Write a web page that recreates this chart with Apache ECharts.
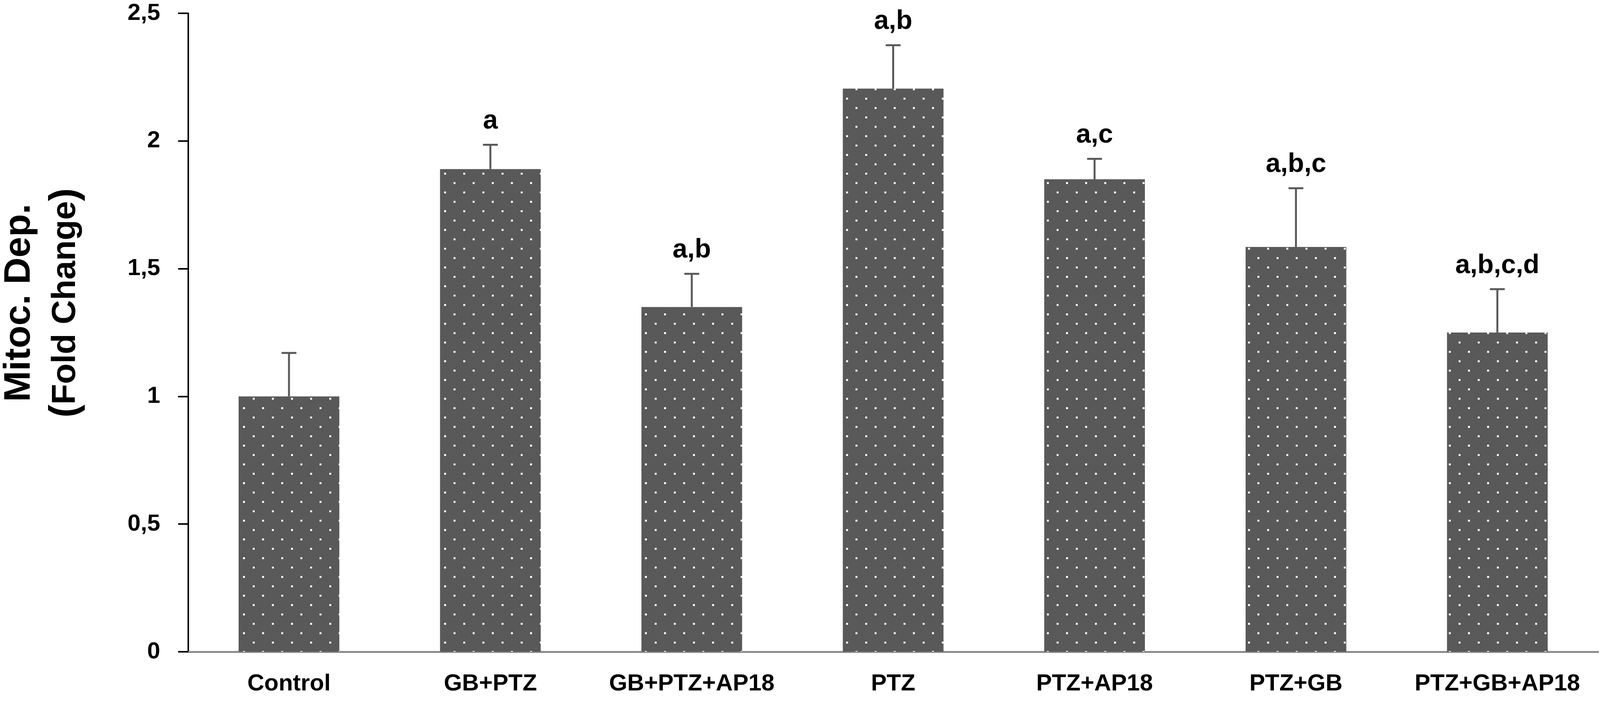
<!DOCTYPE html>
<html>
<head>
<meta charset="utf-8">
<script src="https://cdn.jsdelivr.net/npm/echarts@6/dist/echarts.min.js"></script>
<style>
html,body{margin:0;padding:0;background:#fff;}
#chart{width:4106px;height:1794px;}
</style>
</head>
<body>
<div id="chart"></div>
<script>
// ---- data ----
var categories = ['Control', 'GB+PTZ', 'GB+PTZ+AP18', 'PTZ', 'PTZ+AP18', 'PTZ+GB', 'PTZ+GB+AP18'];
var meanValues = [1.0, 1.89, 1.35, 2.205, 1.85, 1.585, 1.25];
var errorValues = [0.17, 0.095, 0.13, 0.17, 0.08, 0.23, 0.17];
var sigLetters = ['', 'a', 'a,b', 'a,b', 'a,c', 'a,b,c', 'a,b,c,d'];
var yTicks = [0, 0.5, 1, 1.5, 2, 2.5];

// ---- dotted pattern ----
function makePattern() {
  var c = document.createElement('canvas');
  c.width = 49; c.height = 48;
  var ctx = c.getContext('2d');
  ctx.fillStyle = '#595959';
  ctx.fillRect(0, 0, 49, 48);
  ctx.fillStyle = '#ffffff';
  ctx.fillRect(10, 10, 5, 5);
  ctx.fillRect(34, 34, 5, 5);
  return c;
}

var chart = echarts.init(document.getElementById('chart'));
var errData = meanValues.map(function (v, i) { return [i, v, errorValues[i]]; });

var option = {
  backgroundColor: '#ffffff',
  animation: false,
  grid: { left: 482, right: 15, top: 34, bottom: 126, containLabel: false },
  xAxis: {
    type: 'category',
    data: categories,
    axisLine: { show: true, lineStyle: { color: '#8c8c8c', width: 5 } },
    axisTick: { show: false },
    axisLabel: {
      interval: 0,
      margin: 52,
      fontFamily: 'Liberation Sans, sans-serif',
      fontWeight: 'bold',
      fontSize: 60,
      color: '#000'
    },
    splitLine: { show: false }
  },
  yAxis: {
    type: 'value',
    min: yTicks[0],
    max: yTicks[yTicks.length - 1],
    interval: 0.5,
    axisLine: { show: true, lineStyle: { color: '#000', width: 4 } },
    axisTick: { show: true, inside: false, length: 26, lineStyle: { color: '#000', width: 4 } },
    axisLabel: {
      margin: 72,
      fontFamily: 'Liberation Sans, sans-serif',
      fontWeight: 'bold',
      fontSize: 60,
      color: '#000',
      formatter: function (v) { return String(v).replace('.', ','); }
    },
    splitLine: { show: false }
  },
  series: [
    {
      type: 'bar',
      data: meanValues,
      barWidth: '50%',
      itemStyle: { color: { image: makePattern(), repeat: 'repeat' } },
      z: 2
    },
    {
      type: 'custom',
      data: errData,
      z: 3,
      renderItem: function (params, api) {
        var i = api.value(0);
        var v = api.value(1);
        var e = api.value(2);
        var base = api.coord([i, v]);
        var top = api.coord([i, v + e]);
        var half = 19;
        var letter = sigLetters[params.dataIndex];
        var children = [
          { type: 'line', shape: { x1: base[0], y1: base[1], x2: top[0], y2: top[1] },
            style: { stroke: '#595959', lineWidth: 5 } },
          { type: 'line', shape: { x1: top[0] - half, y1: top[1], x2: top[0] + half, y2: top[1] },
            style: { stroke: '#595959', lineWidth: 5 } }
        ];
        if (letter) {
          children.push({
            type: 'text',
            style: {
              text: letter,
              x: top[0], y: top[1] - 26,
              align: 'center', verticalAlign: 'bottom',
              fill: '#000',
              font: 'bold 68px "Liberation Sans", sans-serif'
            }
          });
        }
        return { type: 'group', children: children };
      }
    }
  ],
  graphic: [
    {
      type: 'text',
      x: 50, y: 775,
      rotation: Math.PI / 2,
      style: {
        text: 'Mitoc. Dep.',
        align: 'center', verticalAlign: 'middle',
        fill: '#000',
        font: 'bold 95px "Liberation Sans", sans-serif'
      }
    },
    {
      type: 'text',
      x: 168, y: 775,
      rotation: Math.PI / 2,
      style: {
        text: '{p|(}{f|Fold Change}{p|)}',
        align: 'center', verticalAlign: 'middle',
        fill: '#000',
        rich: {
          p: { fontSize: 100, fontWeight: 'bold', fontFamily: 'Liberation Sans', fill: '#000' },
          f: { fontSize: 86, fontWeight: 'bold', fontFamily: 'Liberation Sans', fill: '#000' }
        }
      }
    }
  ]
};
chart.setOption(option);
</script>
</body>
</html>
